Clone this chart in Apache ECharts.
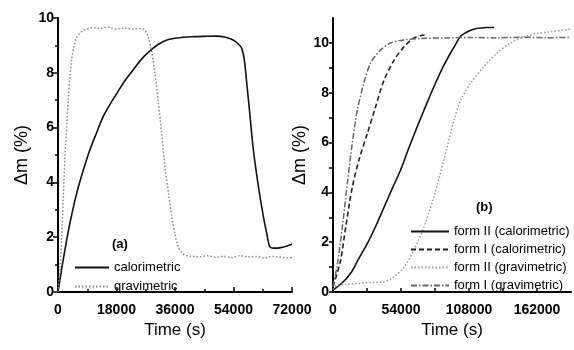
<!DOCTYPE html>
<html>
<head>
<meta charset="utf-8">
<script src="https://cdn.jsdelivr.net/npm/echarts@6/dist/echarts.min.js"></script>
<style>
  html, body { margin: 0; padding: 0; background: #fff; }
  #echarts { width: 574px; height: 350px; }
</style>
</head>
<body>
<div id="echarts"></div>
<script>
// panel (a)
const calTimeA = [0, 1000, 2680, 4000, 5750, 7800, 9850, 12000, 13900, 16000, 18100, 20500, 23100, 25700, 28300, 31000, 33500, 36000, 38500, 42000, 45000, 48800, 51500, 53900, 55500, 56500, 57300, 58100, 59100, 60100, 61600, 63200, 64300, 65200, 66800, 68500, 70500, 72000];
const calValA = [0, 0.75, 1.9, 2.7, 3.6, 4.45, 5.2, 5.85, 6.4, 6.85, 7.25, 7.7, 8.1, 8.5, 8.8, 9.05, 9.2, 9.26, 9.3, 9.32, 9.33, 9.34, 9.3, 9.2, 9.05, 8.9, 8.5, 7.6, 6.4, 5.2, 3.9, 2.75, 2.1, 1.65, 1.6, 1.62, 1.68, 1.75];
const gravTimeA = [0, 600, 1130, 1600, 2150, 2700, 3200, 3700, 4200, 5000, 5750, 6800, 7800, 9000, 10800, 13000, 15500, 18000, 20500, 23000, 25000, 26200, 27300, 28000, 28800, 29800, 30800, 31900, 32900, 34000, 35000, 36000, 37000, 38000, 39000, 41000, 43700, 46000, 48500, 51000, 53500, 56000, 58500, 61000, 63500, 66000, 68500, 71000, 72000];
const gravValA = [0, 0.9, 2.0, 3.4, 5.0, 6.1, 7.1, 7.9, 8.5, 9.0, 9.3, 9.45, 9.55, 9.6, 9.65, 9.62, 9.66, 9.6, 9.63, 9.6, 9.62, 9.6, 9.45, 9.2, 8.8, 8.0, 7.0, 5.8, 4.56, 3.6, 2.75, 2.1, 1.65, 1.45, 1.35, 1.3, 1.29, 1.32, 1.27, 1.3, 1.25, 1.33, 1.28, 1.3, 1.24, 1.3, 1.27, 1.25, 1.26];

// panel (b)
const f2CalTime = [0, 7000, 14000, 20000, 27300, 34000, 40500, 47000, 53700, 60000, 66900, 73500, 80200, 87000, 93400, 97500, 101000, 105000, 109000, 113000, 117000, 122000, 128000];
const f2CalVal = [0.08, 0.35, 0.75, 1.3, 1.95, 2.65, 3.4, 4.15, 4.9, 5.75, 6.64, 7.45, 8.25, 9.0, 9.6, 9.95, 10.25, 10.4, 10.5, 10.57, 10.6, 10.62, 10.62];
const f1CalTime = [0, 3000, 6100, 10100, 15300, 20600, 27300, 33900, 40500, 48400, 56400, 64300, 70000, 74900];
const f1CalVal = [0.2, 0.7, 1.28, 2.6, 4.2, 5.3, 6.37, 7.45, 8.5, 9.3, 9.85, 10.2, 10.3, 10.32];
const f2GravTime = [0, 4000, 10000, 20000, 30000, 40500, 48400, 56400, 64300, 72300, 80200, 88100, 96100, 101400, 109300, 119900, 130400, 141000, 151600, 162200, 172800, 181000, 188700];
const f2GravVal = [0.1, 0.3, 0.3, 0.35, 0.38, 0.41, 0.61, 1.0, 1.69, 2.62, 3.83, 5.3, 6.9, 7.7, 8.38, 9.05, 9.6, 10.0, 10.25, 10.38, 10.45, 10.5, 10.55];
const f1GravTime = [0, 3400, 7400, 11400, 15300, 19300, 24600, 29900, 37900, 45800, 56400, 70000, 90000, 110000, 130000, 150000, 170000, 189000];
const f1GravVal = [0.2, 1.1, 2.6, 4.37, 5.97, 7.3, 8.4, 9.2, 9.72, 10.0, 10.12, 10.18, 10.2, 10.22, 10.2, 10.23, 10.21, 10.22];

const pairs = (xs, ys) => xs.map((x, i) => [x, ys[i]]);

const font = 'Liberation Sans, Arial, sans-serif';
const axisLine = { show: true, lineStyle: { color: '#000', width: 2 } };
const labelStyle = { color: '#000', fontWeight: 'bold', fontSize: 14, fontFamily: font };
const xNameStyle = { color: '#000', fontSize: 17, fontFamily: font };
const yNameStyle = { color: '#000', fontSize: 18, fontFamily: font };
const legendText = { color: '#000', fontSize: 13, fontFamily: font };

const myChart = echarts.init(document.getElementById('echarts'), null, { renderer: 'canvas' });
myChart.setOption({
  animation: false,
  textStyle: { fontFamily: font },
  grid: [
    { left: 58, top: 18, right: 282, bottom: 58 },
    { left: 333, top: 18, right: 3, bottom: 58 },
  ],
  xAxis: [
    {
      gridIndex: 0, type: 'value', min: 0, max: 72000, interval: 18000,
      name: 'Time (s)', nameLocation: 'middle', nameGap: 28, nameTextStyle: xNameStyle,
      axisLine: axisLine,
      axisTick: { inside: true, length: 5, lineStyle: { color: '#000', width: 1.5 } },
      minorTick: { show: true, splitNumber: 2, length: 3, lineStyle: { color: '#000', width: 1.5 } },
      axisLabel: Object.assign({ margin: 11, formatter: v => String(v) }, labelStyle),
      splitLine: { show: false },
    },
    {
      gridIndex: 1, type: 'value', min: 0, max: 189000, interval: 27000,
      name: 'Time (s)', nameLocation: 'middle', nameGap: 28, nameTextStyle: xNameStyle,
      axisLine: axisLine,
      axisTick: { inside: true, length: 4, lineStyle: { color: '#000', width: 1.5 } },
      axisLabel: Object.assign({
        margin: 11, showMaxLabel: false,
        formatter: v => (v % 54000 === 0 ? String(v) : ''),
      }, labelStyle),
      splitLine: { show: false },
    },
  ],
  yAxis: [
    {
      gridIndex: 0, type: 'value', min: 0, max: 10, interval: 2,
      name: 'Δm (%)', nameLocation: 'middle', nameGap: 27, nameTextStyle: yNameStyle,
      axisLine: axisLine,
      axisTick: { length: 5, lineStyle: { color: '#000', width: 1.5 } },
      minorTick: { show: true, splitNumber: 2, length: 3, lineStyle: { color: '#000', width: 1.5 } },
      axisLabel: Object.assign({ margin: 4 }, labelStyle),
      splitLine: { show: false },
    },
    {
      gridIndex: 1, type: 'value', min: 0, max: 11, interval: 1,
      name: 'Δm (%)', nameLocation: 'middle', nameGap: 23, nameTextStyle: yNameStyle,
      axisLine: axisLine,
      axisTick: { length: 4, lineStyle: { color: '#000', width: 1.5 } },
      axisLabel: Object.assign({
        margin: 4, showMaxLabel: false,
        formatter: v => (v % 2 === 0 ? String(v) : ''),
      }, labelStyle),
      splitLine: { show: false },
    },
  ],
  legend: [
    {
      orient: 'vertical', left: 69, top: 256, itemWidth: 34, itemHeight: 14, itemGap: 6,
      itemStyle: { opacity: 0 },
      textStyle: legendText,
      data: ['calorimetric', 'gravimetric'],
    },
    {
      orient: 'vertical', left: 405, top: 220, itemWidth: 38, itemHeight: 14, itemGap: 5,
      itemStyle: { opacity: 0 },
      textStyle: legendText,
      data: ['form II (calorimetric)', 'form I (calorimetric)', 'form II (gravimetric)', 'form I (gravimetric)'],
    },
  ],
  graphic: [
    { type: 'text', left: 112, top: 238, style: { text: '(a)', font: 'bold 13px ' + font, fill: '#000' } },
    { type: 'text', left: 476, top: 201, style: { text: '(b)', font: 'bold 13px ' + font, fill: '#000' } },
  ],
  series: [
    {
      name: 'calorimetric', type: 'line', xAxisIndex: 0, yAxisIndex: 0, showSymbol: false, symbol: 'none', smooth: 0.3,
      lineStyle: { color: '#111', width: 1.6 }, itemStyle: { color: '#111' },
      data: pairs(calTimeA, calValA),
    },
    {
      name: 'gravimetric', type: 'line', xAxisIndex: 0, yAxisIndex: 0, showSymbol: false, symbol: 'none', smooth: 0.3,
      lineStyle: { color: '#888', width: 1.5, type: [1.5, 2] }, itemStyle: { color: '#888' },
      data: pairs(gravTimeA, gravValA),
    },
    {
      name: 'form II (calorimetric)', type: 'line', xAxisIndex: 1, yAxisIndex: 1, showSymbol: false, symbol: 'none', smooth: 0.3,
      lineStyle: { color: '#111', width: 1.6 }, itemStyle: { color: '#111' },
      data: pairs(f2CalTime, f2CalVal),
    },
    {
      name: 'form I (calorimetric)', type: 'line', xAxisIndex: 1, yAxisIndex: 1, showSymbol: false, symbol: 'none', smooth: 0.3,
      lineStyle: { color: '#222', width: 1.6, type: [5, 3] }, itemStyle: { color: '#222' },
      data: pairs(f1CalTime, f1CalVal),
    },
    {
      name: 'form II (gravimetric)', type: 'line', xAxisIndex: 1, yAxisIndex: 1, showSymbol: false, symbol: 'none', smooth: 0.3,
      lineStyle: { color: '#999', width: 1.5, type: [1.5, 2] }, itemStyle: { color: '#999' },
      data: pairs(f2GravTime, f2GravVal),
    },
    {
      name: 'form I (gravimetric)', type: 'line', xAxisIndex: 1, yAxisIndex: 1, showSymbol: false, symbol: 'none', smooth: 0.3,
      lineStyle: { color: '#666', width: 1.5, type: [6, 2, 1.5, 2] }, itemStyle: { color: '#666' },
      data: pairs(f1GravTime, f1GravVal),
    },
  ],
});
window.addEventListener('resize', myChart.resize);
</script>
</body>
</html>
